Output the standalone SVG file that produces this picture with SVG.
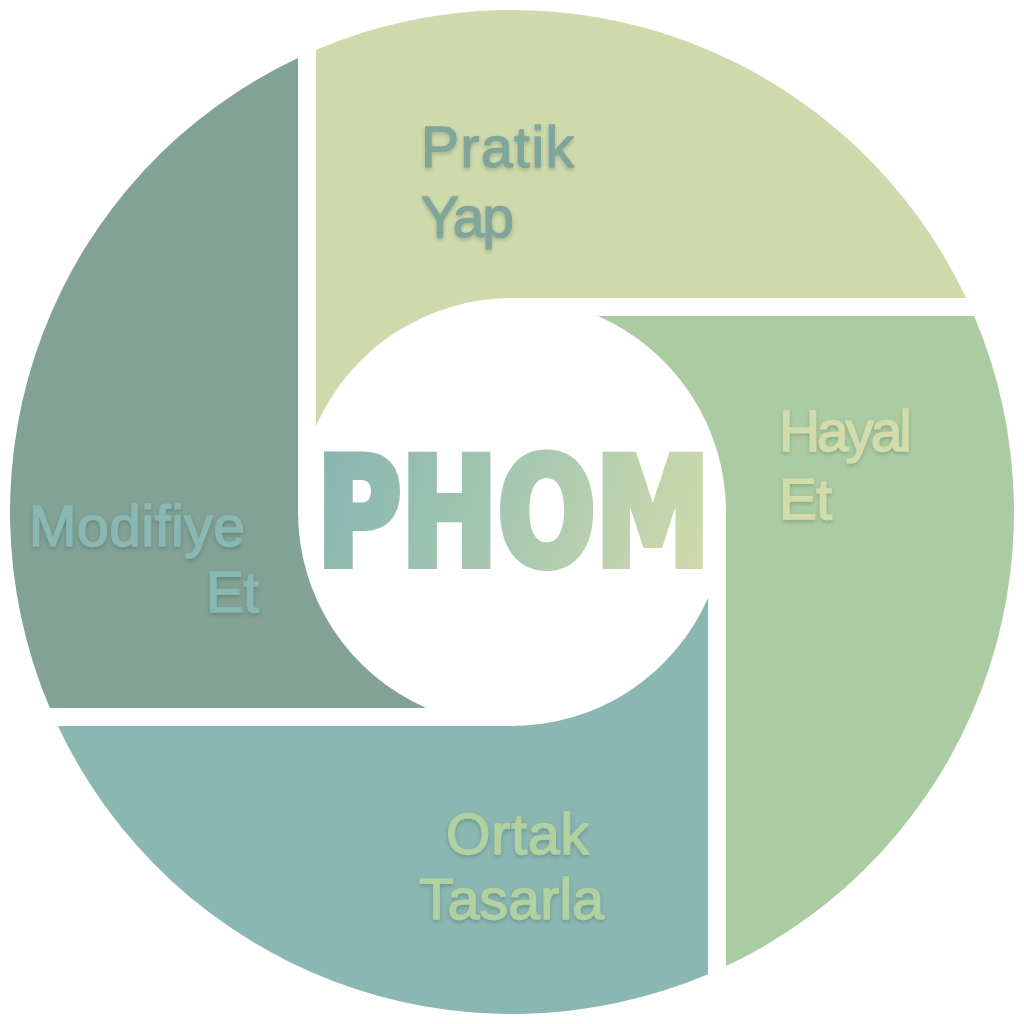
<svg xmlns="http://www.w3.org/2000/svg" width="1024" height="1024" viewBox="0 0 1024 1024">
  <defs>
    <linearGradient id="phomGrad" gradientUnits="userSpaceOnUse" x1="320" y1="452" x2="705" y2="568">
      <stop offset="0" stop-color="#87b5b0"/>
      <stop offset="0.5" stop-color="#a7c8b0"/>
      <stop offset="1" stop-color="#cfdaab"/>
    </linearGradient>
    <filter id="shadow" x="-10%" y="-20%" width="120%" height="150%">
      <feDropShadow dx="0" dy="2" stdDeviation="2" flood-color="#000" flood-opacity="0.2"/>
    </filter>
    <style>
      .lbl { font-family: "Liberation Sans", Arial, sans-serif; font-size: 57px; stroke-width: 1.4; stroke-linejoin: round; stroke-linecap: round; filter: url(#shadow); }
      .phom { font-family: "DejaVu Sans Condensed", "DejaVu Sans", sans-serif; font-weight: bold; font-size: 150px; }
    </style>
  </defs>
  <rect width="1024" height="1024" fill="#ffffff"/>

  <g id="pratik-yap">
    <path d="M316,49.85 L316,426.1 A214,214 0 0 1 512,298 L966.1,298 A502,502 0 0 0 316,49.85 Z" fill="#cfdaac"/>
    <text class="lbl" fill="#80a69b" stroke="#80a69b" x="421" y="167" textLength="153">Pratik</text>
    <text class="lbl" fill="#80a69b" stroke="#80a69b" x="421" y="237" textLength="93">Yap</text>
  </g>

  <g id="hayal-et">
    <path d="M974.15,316 L597.9,316 A214,214 0 0 1 726,512 L726,966.1 A502,502 0 0 0 974.15,316 Z" fill="#abcca3"/>
    <text class="lbl" fill="#d2dcab" stroke="#d2dcab" x="779" y="451" textLength="133">Hayal</text>
    <text class="lbl" fill="#d2dcab" stroke="#d2dcab" x="779" y="519" textLength="53">Et</text>
  </g>

  <g id="ortak-tasarla">
    <path d="M708,974.15 L708,597.9 A214,214 0 0 1 512,726 L57.9,726 A502,502 0 0 0 708,974.15 Z" fill="#8ab7b2"/>
    <text class="lbl" fill="#b1d1a1" stroke="#b1d1a1" x="446" y="854" textLength="143">Ortak</text>
    <text class="lbl" fill="#b1d1a1" stroke="#b1d1a1" x="419" y="919" textLength="185">Tasarla</text>
  </g>

  <g id="modifiye-et">
    <path d="M49.85,708 L426.1,708 A214,214 0 0 1 298,512 L298,57.9 A502,502 0 0 0 49.85,708 Z" fill="#82a295"/>
    <text class="lbl" fill="#89b8b3" stroke="#89b8b3" x="29" y="546" textLength="216">Modifiye</text>
    <text class="lbl" fill="#89b8b3" stroke="#89b8b3" x="206" y="612" textLength="53">Et</text>
  </g>

  <g id="phom">
    <text class="phom" x="317" y="565" textLength="393" lengthAdjust="spacingAndGlyphs" fill="url(#phomGrad)" stroke="url(#phomGrad)" stroke-width="8" stroke-linejoin="miter">PHOM</text>
  </g>

  <g id="connectors"></g>
</svg>
